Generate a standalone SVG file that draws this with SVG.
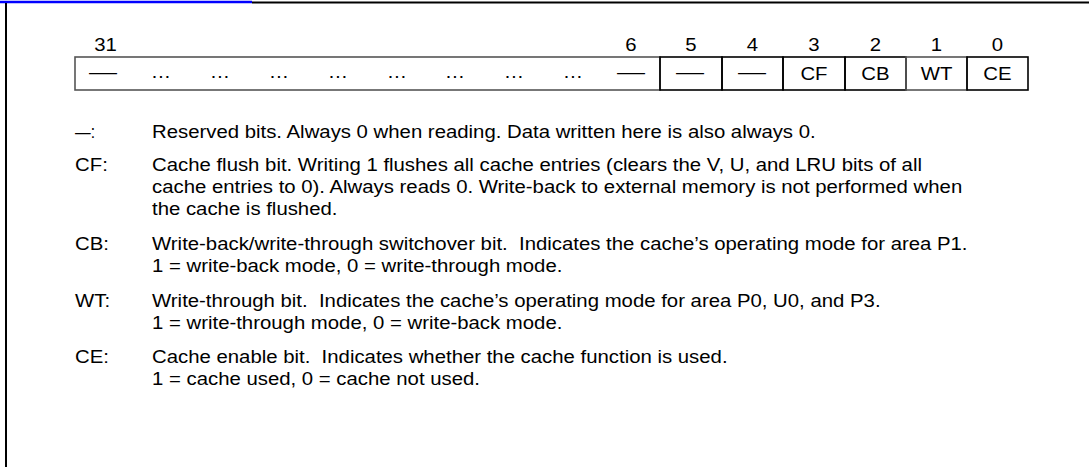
<svg xmlns="http://www.w3.org/2000/svg" width="1089" height="467" viewBox="0 0 1089 467">
<style>
.t{font-family:"Liberation Sans",Arial,Helvetica,sans-serif;font-size:18.5px;fill:#000}
.m{text-anchor:middle}
.cell{fill:none;stroke:#000;stroke-width:1.6}
.cellg{fill:none;stroke:#555;stroke-width:1.6}
</style>
<rect width="1089" height="467" fill="#fff"/>
<g id="frame">
<line x1="252" y1="2.5" x2="1089" y2="2.5" stroke="#000" stroke-width="2"/>
<line x1="0" y1="2" x2="252" y2="2" stroke="#0000ff" stroke-width="2.5"/>
<line x1="6" y1="3" x2="6" y2="467" stroke="#000" stroke-width="2"/>
</g>
<g id="register">
<rect class="cellg" x="75" y="57" width="585" height="33"/>
<rect class="cell" x="660" y="57" width="62" height="33"/>
<rect class="cell" x="722" y="57" width="61" height="33"/>
<rect class="cell" x="783" y="57" width="62" height="33"/>
<rect class="cell" x="845" y="57" width="61" height="33"/>
<rect class="cellg" x="906" y="57" width="61" height="33"/>
<rect class="cell" x="967" y="57" width="61" height="33"/>
<g transform="scale(1.1,1)">
<text class="t m" x="96.0" y="51">31</text>
<text class="t m" x="573.6" y="51">6</text>
<text class="t m" x="628.2" y="51">5</text>
<text class="t m" x="684.1" y="51">4</text>
<text class="t m" x="740.0" y="51">3</text>
<text class="t m" x="795.9" y="51">2</text>
<text class="t m" x="851.4" y="51">1</text>
<text class="t m" x="906.8" y="51">0</text>
<text class="t m" x="146.4" y="78">…</text>
<text class="t m" x="200.0" y="78">…</text>
<text class="t m" x="253.6" y="78">…</text>
<text class="t m" x="307.3" y="78">…</text>
<text class="t m" x="360.9" y="78">…</text>
<text class="t m" x="413.6" y="78">…</text>
<text class="t m" x="467.3" y="78">…</text>
<text class="t m" x="520.9" y="78">…</text>
<text class="t m" x="740.0" y="80">CF</text>
<text class="t m" x="795.9" y="80">CB</text>
<text class="t m" x="851.4" y="80">WT</text>
<text class="t m" x="906.8" y="80">CE</text>
</g>
<text class="t" x="89" y="78" textLength="28" lengthAdjust="spacingAndGlyphs">—</text>
<text class="t" x="617" y="78" textLength="28" lengthAdjust="spacingAndGlyphs">—</text>
<text class="t" x="676" y="78" textLength="28" lengthAdjust="spacingAndGlyphs">—</text>
<text class="t" x="738" y="78" textLength="28" lengthAdjust="spacingAndGlyphs">—</text>
</g>
<g id="legend">
<text class="t" x="75" y="138" textLength="20" lengthAdjust="spacingAndGlyphs">—:</text>
<g transform="scale(1.1,1)">
<text class="t" x="138.2" y="138">Reserved bits. Always 0 when reading. Data written here is also always 0.</text>
<text class="t" x="68.2" y="171">CF:</text>
<text class="t" x="138.2" y="171">Cache flush bit. Writing 1 flushes all cache entries (clears the V, U, and LRU bits of all</text>
<text class="t" x="138.2" y="193">cache entries to 0). Always reads 0. Write-back to external memory is not performed when</text>
<text class="t" x="138.2" y="215">the cache is flushed.</text>
<text class="t" x="68.2" y="250">CB:</text>
<text class="t" x="138.2" y="250" xml:space="preserve">Write-back/write-through switchover bit.  Indicates the cache’s operating mode for area P1.</text>
<text class="t" x="138.2" y="272">1 = write-back mode, 0 = write-through mode.</text>
<text class="t" x="68.2" y="307">WT:</text>
<text class="t" x="138.2" y="307" xml:space="preserve">Write-through bit.  Indicates the cache’s operating mode for area P0, U0, and P3.</text>
<text class="t" x="138.2" y="329">1 = write-through mode, 0 = write-back mode.</text>
<text class="t" x="68.2" y="363">CE:</text>
<text class="t" x="138.2" y="363" xml:space="preserve">Cache enable bit.  Indicates whether the cache function is used.</text>
<text class="t" x="138.2" y="385">1 = cache used, 0 = cache not used.</text>
</g>
</g>
</svg>
